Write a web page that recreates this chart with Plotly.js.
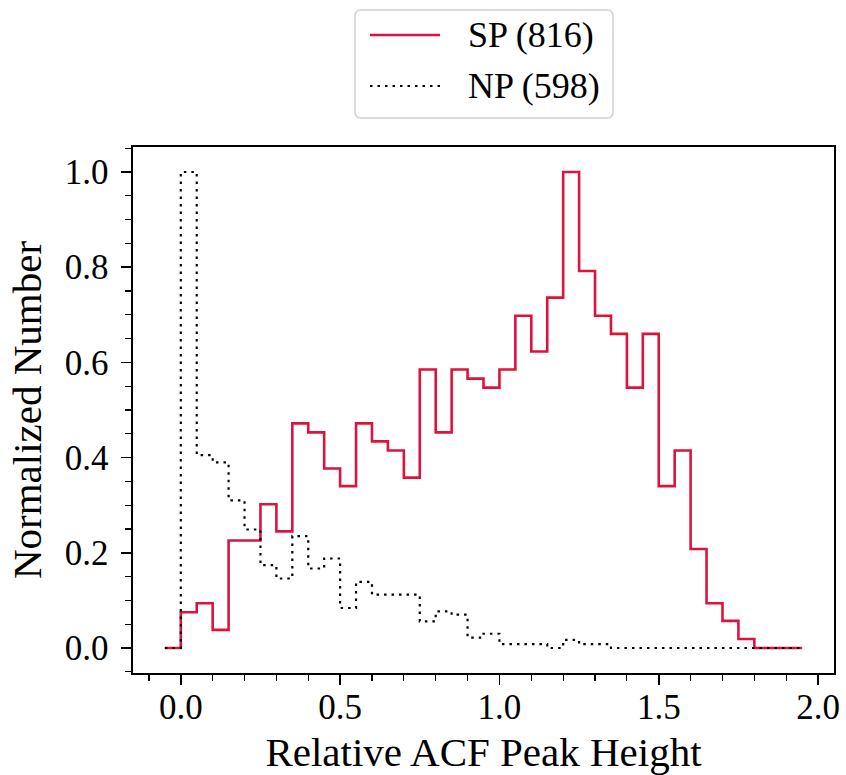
<!DOCTYPE html>
<html>
<head>
<meta charset="utf-8">
<script src="https://cdn.plot.ly/plotly-3.0.1.min.js"></script>
<style>
  html, body { margin: 0; padding: 0; background: #fff; }
  #chart { width: 846px; height: 775px; }
</style>
</head>
<body>
<div id="chart"></div>
<script>
// Histogram bin edges (width 0.05) for the relative ACF peak height
const binEdges = [-0.05, 0.00, 0.05, 0.10, 0.15, 0.20, 0.25, 0.30, 0.35, 0.40,
                  0.45, 0.50, 0.55, 0.60, 0.65, 0.70, 0.75, 0.80, 0.85, 0.90,
                  0.95, 1.00, 1.05, 1.10, 1.15, 1.20, 1.25, 1.30, 1.35, 1.40,
                  1.45, 1.50, 1.55, 1.60, 1.65, 1.70, 1.75, 1.80, 1.85, 1.90, 1.95];

// Normalized counts per bin (peak bin = 1)
const spValues = [0, 0.075, 0.094, 0.038, 0.226, 0.226, 0.302, 0.245, 0.472, 0.453,
                  0.377, 0.340, 0.472, 0.434, 0.415, 0.358, 0.585, 0.453, 0.585, 0.566,
                  0.547, 0.585, 0.698, 0.623, 0.736, 1.000, 0.792, 0.698, 0.660, 0.547,
                  0.660, 0.340, 0.415, 0.208, 0.094, 0.057, 0.019, 0, 0, 0];

const npValues = [0, 1.000, 0.405, 0.390, 0.310, 0.249, 0.174, 0.146, 0.235, 0.167,
                  0.188, 0.084, 0.139, 0.112, 0.112, 0.112, 0.056, 0.077, 0.070, 0.022,
                  0.030, 0.008, 0.008, 0.008, 0, 0.017, 0.008, 0.008, 0, 0,
                  0, 0, 0, 0, 0, 0, 0, 0, 0, 0];

const seriesNames = ['SP (816)', 'NP (598)'];
const xTicks = [0.0, 0.5, 1.0, 1.5, 2.0];
const yTicks = [0.0, 0.2, 0.4, 0.6, 0.8, 1.0];

// A step outline: each value holds from its left edge to the next edge,
// so the last value is repeated at the final right edge.
function stepY(values) {
  return values.concat([values[values.length - 1]]);
}

const FONT = '"Liberation Serif", "DejaVu Serif", serif';
const SP_LINE = { color: '#DC143C', width: 2.6 };
const NP_LINE = { color: '#000000', width: 2.2, dash: '2.5px,5px' };

const traces = [
  {
    type: 'scatter', mode: 'lines', name: seriesNames[0],
    x: binEdges, y: stepY(spValues),
    line: Object.assign({ shape: 'hv' }, SP_LINE)
  },
  {
    type: 'scatter', mode: 'lines', name: seriesNames[1],
    x: binEdges, y: stepY(npValues),
    line: Object.assign({ shape: 'hv' }, NP_LINE)
  }
];

// Legend box above the axes, drawn in paper coordinates
const plotW = 846 - 133 - 12, plotH = 775 - 147 - 102;
const px = v => (v - 133) / plotW;          // page x -> paper x
const py = v => (673 - v) / plotH;          // page y -> paper y
const box = { x0: px(355), x1: px(613), y0: py(118), y1: py(10) };
const rx = 6 / plotW, ry = 6 / plotH;
const boxPath =
  `M${box.x0 + rx},${box.y1} L${box.x1 - rx},${box.y1} Q${box.x1},${box.y1} ${box.x1},${box.y1 - ry} ` +
  `L${box.x1},${box.y0 + ry} Q${box.x1},${box.y0} ${box.x1 - rx},${box.y0} ` +
  `L${box.x0 + rx},${box.y0} Q${box.x0},${box.y0} ${box.x0},${box.y0 + ry} ` +
  `L${box.x0},${box.y1 - ry} Q${box.x0},${box.y1} ${box.x0 + rx},${box.y1} Z`;
const rowY = [py(35), py(86)];

const shapes = [
  { type: 'path', xref: 'paper', yref: 'paper', path: boxPath,
    fillcolor: 'rgba(255,255,255,0.8)', line: { color: '#d0d0d0', width: 1.5 } },
  { type: 'line', xref: 'paper', yref: 'paper', x0: px(370), x1: px(440), y0: rowY[0], y1: rowY[0],
    line: SP_LINE },
  { type: 'line', xref: 'paper', yref: 'paper', x0: px(370), x1: px(440), y0: rowY[1], y1: rowY[1],
    line: NP_LINE }
];

const annotations = seriesNames.map((name, i) => ({
  xref: 'paper', yref: 'paper', x: px(466), y: rowY[i],
  xanchor: 'left', yanchor: 'middle', showarrow: false,
  text: name, font: { family: FONT, size: 36, color: '#000' }
}));

const axisCommon = {
  showgrid: false, zeroline: false,
  showline: true, mirror: true, linecolor: '#000', linewidth: 1.6,
  ticks: 'outside', ticklen: 10, tickwidth: 1.6, tickcolor: '#000',
  tickformat: '.1f',
  tickfont: { family: FONT, size: 35, color: '#000' }
};

const layout = {
  width: 846, height: 775,
  margin: { l: 133, r: 12, t: 147, b: 102 },
  paper_bgcolor: '#fff', plot_bgcolor: '#fff',
  font: { family: FONT, color: '#000' },
  showlegend: false,
  shapes: shapes,
  annotations: annotations,
  xaxis: Object.assign({}, axisCommon, {
    range: [-0.15, 2.05],
    tickmode: 'array', tickvals: xTicks,
    ticklabelstandoff: -8,
    minor: { dtick: 0.1, tick0: 0, ticks: 'outside', ticklen: 6, tickwidth: 1.2, tickcolor: '#000' },
    title: { text: 'Relative ACF Peak Height', standoff: 18,
             font: { family: FONT, size: 41, color: '#000' } }
  }),
  yaxis: Object.assign({}, axisCommon, {
    range: [-0.0525, 1.0525],
    tickmode: 'array', tickvals: yTicks,
    ticklabelstandoff: 6,
    minor: { dtick: 0.05, tick0: 0, ticks: 'outside', ticklen: 6, tickwidth: 1.2, tickcolor: '#000' },
    title: { text: 'Normalized Number', standoff: 10,
             font: { family: FONT, size: 41, color: '#000' } }
  })
};

Plotly.newPlot('chart', traces, layout, { staticPlot: true, displayModeBar: false });
</script>
</body>
</html>
